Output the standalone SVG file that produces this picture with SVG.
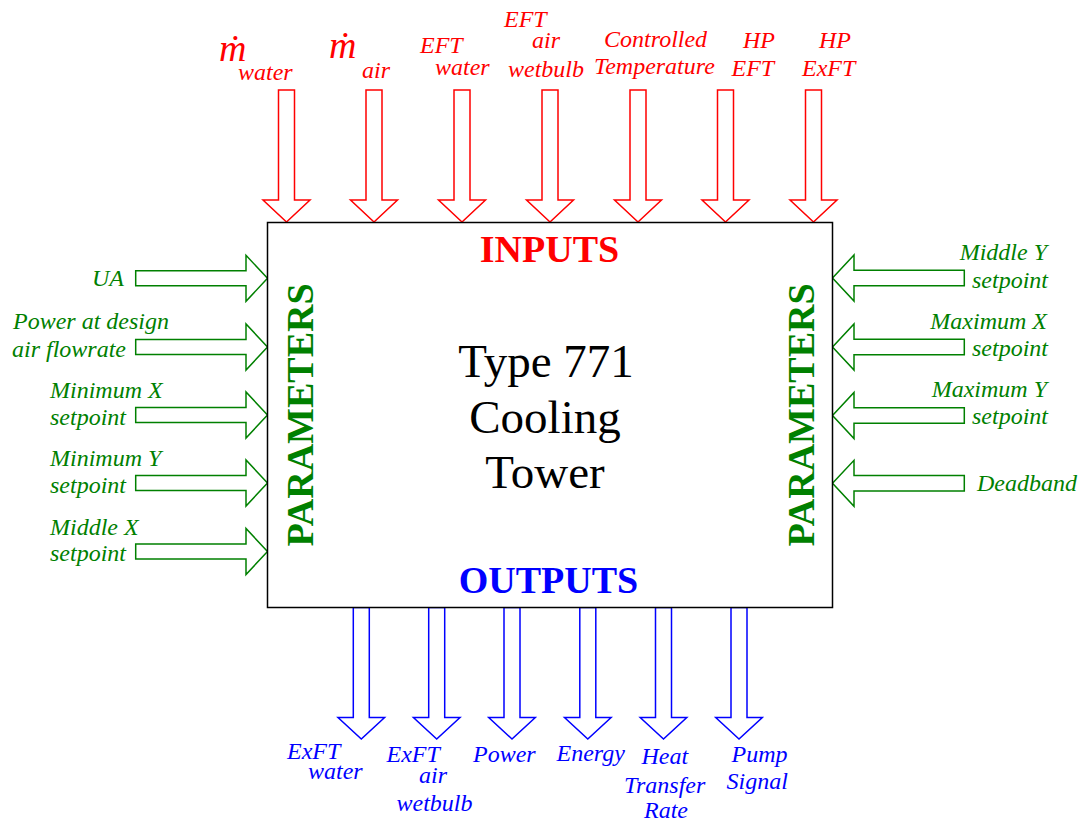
<svg xmlns="http://www.w3.org/2000/svg" xmlns:xlink="http://www.w3.org/1999/xlink" width="1084" height="823" viewBox="0 0 1084 823">
<style>
.lbl{font-family:"Liberation Serif","DejaVu Serif",serif;font-style:italic;font-size:24px}
.red{fill:#ff0000}.grn{fill:#008000}.blu{fill:#0000ff}
.mdot{font-family:"Liberation Serif","DejaVu Serif",serif;font-style:italic;font-size:38px;fill:#ff0000}
.arr{fill:#ffffff;stroke-width:1.5;stroke-linejoin:miter}
.ain{stroke:#ff0000}.apar{stroke:#008000}.aout{stroke:#0000ff}
.title{font-family:"Liberation Serif","DejaVu Serif",serif;font-size:47px;fill:#000000;text-anchor:middle}
.sec{font-family:"Liberation Serif","DejaVu Serif",serif;font-weight:bold;font-size:38px;text-anchor:middle}
.end{text-anchor:end}
</style>
<defs>
<path id="aDownIn" d="M-8,90 L8,90 L8,200 L23.5,200 L0,222 L-23.5,200 L-8,200 Z"/>
<path id="aRight" d="M135.7,-7.5 L246,-7.5 L246,-23 L267.5,0 L246,23 L246,7.5 L135.7,7.5 Z"/>
<path id="aLeft" d="M964.3,-7.8 L854,-7.8 L854,-23 L832.5,0 L854,23 L854,7.8 L964.3,7.8 Z"/>
<path id="aDownOut" d="M-8,607.5 L8,607.5 L8,717.5 L23.3,717.5 L0,739 L-23.3,717.5 L-8,717.5 Z"/>
</defs>
<rect width="1084" height="823" fill="#ffffff"/>
<g id="connectors">
<g class="arr ain">
<use xlink:href="#aDownIn" x="286.5" y="0"/>
<use xlink:href="#aDownIn" x="374" y="0"/>
<use xlink:href="#aDownIn" x="462" y="0"/>
<use xlink:href="#aDownIn" x="550" y="0"/>
<use xlink:href="#aDownIn" x="638" y="0"/>
<use xlink:href="#aDownIn" x="725.5" y="0"/>
<use xlink:href="#aDownIn" x="813.5" y="0"/>
</g>
<g class="arr apar">
<use xlink:href="#aRight" x="0" y="278.3"/>
<use xlink:href="#aRight" x="0" y="347"/>
<use xlink:href="#aRight" x="0" y="415"/>
<use xlink:href="#aRight" x="0" y="483"/>
<use xlink:href="#aRight" x="0" y="551.5"/>
<use xlink:href="#aLeft" x="0" y="278"/>
<use xlink:href="#aLeft" x="0" y="347"/>
<use xlink:href="#aLeft" x="0" y="415.5"/>
<use xlink:href="#aLeft" x="0" y="483.3"/>
</g>
<g class="arr aout">
<use xlink:href="#aDownOut" x="361.3" y="0"/>
<use xlink:href="#aDownOut" x="436.7" y="0"/>
<use xlink:href="#aDownOut" x="512" y="0"/>
<use xlink:href="#aDownOut" x="587.8" y="0"/>
<use xlink:href="#aDownOut" x="663.5" y="0"/>
<use xlink:href="#aDownOut" x="739" y="0"/>
</g>
</g>
<g id="node-type771">
<rect x="267.5" y="222.5" width="565" height="385" fill="#ffffff" stroke="#000000" stroke-width="1.5"/>
<text class="title" x="546" y="377">Type 771</text>
<text class="title" x="545" y="433">Cooling</text>
<text class="title" x="545" y="488">Tower</text>
<text class="sec red" x="549.5" y="262">INPUTS</text>
<text class="sec blu" x="548.5" y="593">OUTPUTS</text>
<text class="sec grn" transform="translate(313,415) rotate(-90)">PARAMETERS</text>
<text class="sec grn" transform="translate(813.5,415) rotate(-90)">PARAMETERS</text>
</g>
<g id="in-mwater"><text class="mdot" x="219" y="61">ṁ</text><text class="lbl red" x="238" y="80">water</text></g>
<g id="in-mair"><text class="mdot" x="329" y="58">ṁ</text><text class="lbl red" x="362" y="78">air</text></g>
<g id="in-eftwater"><text class="lbl red" x="420" y="53">EFT</text><text class="lbl red" x="435" y="75">water</text></g>
<g id="in-eftairwb"><text class="lbl red" x="504" y="27">EFT</text><text class="lbl red" x="532" y="48">air</text><text class="lbl red" x="508" y="76.5">wetbulb</text></g>
<g id="in-ctrltemp"><text class="lbl red" x="604" y="47">Controlled</text><text class="lbl red" x="594" y="74">Temperature</text></g>
<g id="in-hpeft"><text class="lbl red" x="743" y="48">HP</text><text class="lbl red" x="731.5" y="76">EFT</text></g>
<g id="in-hpexft"><text class="lbl red" x="819" y="48">HP</text><text class="lbl red" x="802" y="76">ExFT</text></g>
<g id="par-ua"><text class="lbl grn end" x="124" y="285.5">UA</text></g>
<g id="par-power"><text class="lbl grn" x="13" y="328.5">Power at design</text><text class="lbl grn" x="12" y="356.5">air flowrate</text></g>
<g id="par-minx"><text class="lbl grn" x="50" y="397.5">Minimum X</text><text class="lbl grn" x="50" y="424.5">setpoint</text></g>
<g id="par-miny"><text class="lbl grn" x="50" y="465.5">Minimum Y</text><text class="lbl grn" x="50" y="492.5">setpoint</text></g>
<g id="par-midx"><text class="lbl grn" x="50" y="534.5">Middle X</text><text class="lbl grn" x="50" y="561">setpoint</text></g>
<g id="par-midy"><text class="lbl grn end" x="1047" y="260">Middle Y</text><text class="lbl grn end" x="1048" y="287.5">setpoint</text></g>
<g id="par-maxx"><text class="lbl grn end" x="1047" y="328.5">Maximum X</text><text class="lbl grn end" x="1048" y="355.5">setpoint</text></g>
<g id="par-maxy"><text class="lbl grn end" x="1047" y="396.5">Maximum Y</text><text class="lbl grn end" x="1048" y="424">setpoint</text></g>
<g id="par-deadband"><text class="lbl grn end" x="1077" y="490.5">Deadband</text></g>
<g id="out-exftwater"><text class="lbl blu" x="287" y="759">ExFT</text><text class="lbl blu" x="308" y="779">water</text></g>
<g id="out-exftairwb"><text class="lbl blu" x="386.5" y="761.5">ExFT</text><text class="lbl blu" x="419" y="782.5">air</text><text class="lbl blu" x="396.5" y="810.5">wetbulb</text></g>
<g id="out-power"><text class="lbl blu" x="473" y="762">Power</text></g>
<g id="out-energy"><text class="lbl blu" x="556.5" y="760.5">Energy</text></g>
<g id="out-htr"><text class="lbl blu" x="641.5" y="764">Heat</text><text class="lbl blu" x="624" y="792.5">Transfer</text><text class="lbl blu" x="644" y="818">Rate</text></g>
<g id="out-pump"><text class="lbl blu" x="731.5" y="762">Pump</text><text class="lbl blu" x="726.5" y="789">Signal</text></g>
</svg>
